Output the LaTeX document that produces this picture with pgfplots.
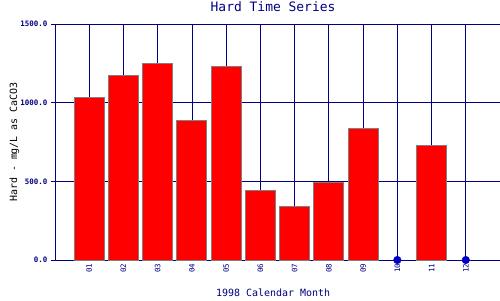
\documentclass[border=0pt]{standalone}
\usepackage{pgfplots}
\pgfplotsset{compat=1.18}
\usepackage{fontspec}
\setmainfont{DejaVu Sans Mono}
\definecolor{navy}{RGB}{0,0,128}
\definecolor{dotblue}{RGB}{0,0,200}
\definecolor{edgegray}{RGB}{128,128,128}
\begin{document}
\begin{tikzpicture}[x=1bp,y=1bp]
\useasboundingbox (0,0) rectangle (500,300);
\begin{axis}[
  at={(55bp,40bp)}, anchor=south west,
  scale only axis, width=445bp, height=236bp,
  xmin=0, xmax=13, ymin=0, ymax=1500,
  axis line style={navy, line width=0.9pt},
  axis x line*=bottom, axis y line*=left,
  xtick={1,...,12},
  xticklabels={01,02,03,04,05,06,07,08,09,10,11,12},
  xticklabel style={rotate=90, anchor=east, font=\fontsize{7.5}{8}\selectfont, text=navy},
  ytick={0,500,1000,1500},
  yticklabels={0.0,500.0,1000.0,1500.0},
  yticklabel style={font=\bfseries\fontsize{7.5}{8}\selectfont, text=navy},
  /pgf/number format/assume math mode=true,
  tick style={navy, line width=0.8pt},
  major tick length=4bp,
  xtick style={draw=none},
  ytick align=outside,
  xmajorgrids, ymajorgrids,
  grid style={navy, line width=0.8pt},
  title={Hard Time Series},
  title style={font=\fontsize{13}{15}\selectfont, text=navy, at={(0.49,1)}, anchor=south, yshift=3bp},
  xlabel={1998 Calendar Month},
  xlabel style={font=\fontsize{10}{12}\selectfont, text=navy, at={(0.49,0)}, anchor=north, yshift=-25bp},
  ylabel={Hard - mg/L as CaCO3},
  ylabel style={font=\fontsize{10}{12}\selectfont, text=navy},
  every axis y label/.style={at={(-49bp,0.5)}, rotate=90, anchor=north},
  clip=false,
]
\addplot[ybar, bar width=0.88, fill=red, draw=edgegray, line width=1pt] coordinates {
  (1,1036) (2,1174) (3,1252) (4,888) (5,1227) (6,443) (7,341) (8,494) (9,837) (11,729)
};
\addplot[only marks, mark=*, mark size=3.8bp, color=dotblue] coordinates {
  (10,0) (12,0)
};
\draw[navy, line width=0.9pt] (axis cs:0,1500) -- (axis cs:13,1500);
\end{axis}
\end{tikzpicture}
\end{document}
